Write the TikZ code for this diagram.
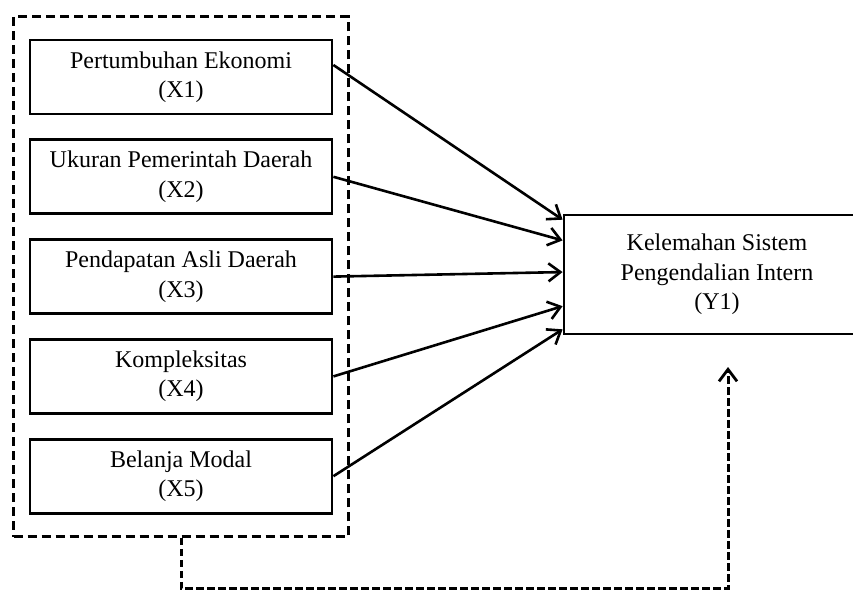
\documentclass[tikz,border=0pt]{standalone}
\usepackage{fontspec}
\setmainfont{Liberation Serif}
\usetikzlibrary{arrows.meta,positioning,calc,fit}

\begin{document}
\begin{tikzpicture}[
    x=1pt, y=-1pt,
    node distance=23pt,
    varbox/.style={rectangle, draw, line width=2.8pt, minimum width=302pt, minimum height=74pt, inner sep=0pt, align=center, font=\fontsize{24}{29.5}\selectfont},
    group/.style={rectangle, draw, line width=2.6pt, dash pattern=on 9pt off 5pt, inner xsep=15pt, inner ysep=22pt},
    arrow/.style={-{Straight Barb[length=12pt, width=18pt, line width=2.6pt]}, line width=2.6pt},
    feedback/.style={-{Straight Barb[length=12pt, width=18pt, line width=2.8pt]}, line width=3pt, dash pattern=on 7.5pt off 3.5pt}
]
    \useasboundingbox (0,0) rectangle (853,594);

    \node[varbox] (x1) at (181,77) {Pertumbuhan Ekonomi\\(X1)};
    \node[varbox, below=of x1] (x2) {Ukuran Pemerintah Daerah\\(X2)};
    \node[varbox, below=of x2] (x3) {Pendapatan Asli Daerah\\(X3)};
    \node[varbox, below=of x3] (x4) {Kompleksitas\\(X4)};
    \node[varbox, below=of x4] (x5) {Belanja Modal\\(X5)};
    \node[group, fit=(x1) (x2) (x3) (x4) (x5)] (independen) {};

    \node[varbox, minimum width=306pt, minimum height=119pt] (y1) at (717,274.5) {Kelemahan Sistem\\Pengendalian Intern\\(Y1)};
    \coordinate (fbend) at (728,367);

    \draw[arrow] ($(x1.east)+(0,-12)$) -- ($(y1.north west)!0.05!(y1.south west)$);
    \draw[arrow] (x2.east) -- ($(y1.north west)!0.22!(y1.south west)$);
    \draw[arrow] (x3.east) -- ($(y1.north west)!0.48!(y1.south west)$);
    \draw[arrow] (x4.east) -- ($(y1.north west)!0.76!(y1.south west)$);
    \draw[arrow] (x5.east) -- ($(y1.north west)!0.95!(y1.south west)$);
    \draw[feedback] (independen.south) -- ++(0,51) -| (fbend);
\end{tikzpicture}
\end{document}
